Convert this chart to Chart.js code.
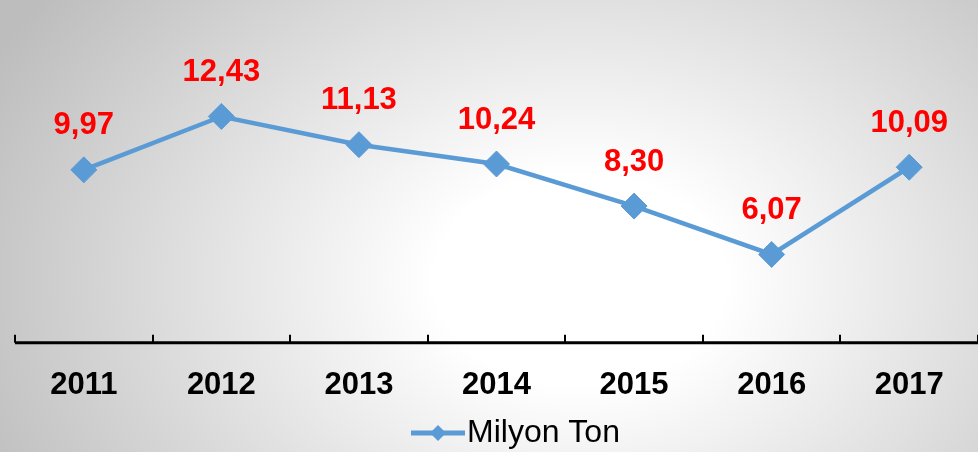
<!DOCTYPE html>
<html>
<head>
<meta charset="utf-8">
<script src="https://cdn.jsdelivr.net/npm/chart.js@4.4.1/dist/chart.umd.min.js"></script>
<style>
  html, body { margin: 0; padding: 0; }
  body {
    width: 978px; height: 452px; overflow: hidden;
    background: radial-gradient(ellipse 660px 480px at 580px 280px, #ffffff 0%, #ffffff 22%, #bdbdbd 100%);
  }
  #wrap { width: 978px; height: 452px; }
</style>
</head>
<body>
<div id="wrap"><canvas id="myChart" width="978" height="452"></canvas></div>
<script>
const years = ['2011', '2012', '2013', '2014', '2015', '2016', '2017'];
const milyonTon = [9.97, 12.43, 11.13, 10.24, 8.30, 6.07, 10.09];
const seriesName = 'Milyon Ton';
const lineColor = '#5B9BD5';

// axis line with short upward ticks between categories
const axisLine = {
  id: 'axisLine',
  afterDatasetsDraw(chart) {
    const ctx = chart.ctx;
    const x = chart.scales.x;
    const a = chart.chartArea;
    const half = (x.getPixelForValue(1) - x.getPixelForValue(0)) / 2;
    ctx.save();
    ctx.strokeStyle = '#000';
    ctx.lineWidth = 3;
    ctx.beginPath();
    ctx.moveTo(a.left, a.bottom);
    ctx.lineTo(a.right, a.bottom);
    ctx.stroke();
    ctx.lineWidth = 2;
    for (let i = 0; i <= years.length; i++) {
      const px = Math.round(x.getPixelForValue(i) - half);
      ctx.beginPath();
      ctx.moveTo(px, a.bottom);
      ctx.lineTo(px, a.bottom - 8);
      ctx.stroke();
    }
    ctx.restore();
  }
};

// red value labels above the points + legend at bottom
const valueLabels = {
  id: 'valueLabels',
  afterDraw(chart) {
    const ctx = chart.ctx;
    const meta = chart.getDatasetMeta(0);
    ctx.save();
    ctx.fillStyle = '#FF0000';
    ctx.font = 'bold 31px "Liberation Sans", Arial, sans-serif';
    ctx.textAlign = 'center';
    ctx.textBaseline = 'middle';
    meta.data.forEach((pt, i) => {
      ctx.fillText(milyonTon[i].toFixed(2).replace('.', ','), pt.x, pt.y - 44);
    });

    // legend
    const ly = 433;
    ctx.strokeStyle = lineColor;
    ctx.lineWidth = 5;
    ctx.beginPath();
    ctx.moveTo(411, ly);
    ctx.lineTo(465, ly);
    ctx.stroke();
    ctx.fillStyle = lineColor;
    ctx.beginPath();
    ctx.moveTo(438, ly - 8);
    ctx.lineTo(446, ly);
    ctx.lineTo(438, ly + 8);
    ctx.lineTo(430, ly);
    ctx.closePath();
    ctx.fill();
    ctx.fillStyle = '#000';
    ctx.font = '32px "Liberation Sans", Arial, sans-serif';
    ctx.textAlign = 'left';
    ctx.fillText(seriesName, 467, ly);
    ctx.restore();
  }
};

const rdx = document.getElementById('myChart').getContext('2d');
const myChart = new Chart(rdx, {
  type: 'line',
  data: {
    labels: years,
    datasets: [{
      label: seriesName,
      data: milyonTon,
      borderColor: lineColor,
      backgroundColor: lineColor,
      borderWidth: 4.5,
      pointStyle: 'rectRot',
      pointRadius: 13,
      pointBorderWidth: 1,
      pointBackgroundColor: lineColor,
      pointBorderColor: lineColor,
      tension: 0
    }]
  },
  options: {
    responsive: false,
    animation: false,
    layout: { autoPadding: false, padding: { left: 15, right: 0, top: 39, bottom: 24 } },
    scales: {
      x: {
        offset: true,
        grid: { display: false, drawTicks: false, tickLength: 0 },
        border: { display: false },
        ticks: {
          color: '#000',
          padding: 24,
          font: { family: '"Liberation Sans", Arial, sans-serif', size: 31, weight: 'bold' }
        }
      },
      y: {
        display: false,
        min: 2,
        max: 16
      }
    },
    plugins: {
      legend: { display: false },
      tooltip: { enabled: false }
    }
  },
  plugins: [axisLine, valueLabels]
});
</script>
</body>
</html>
